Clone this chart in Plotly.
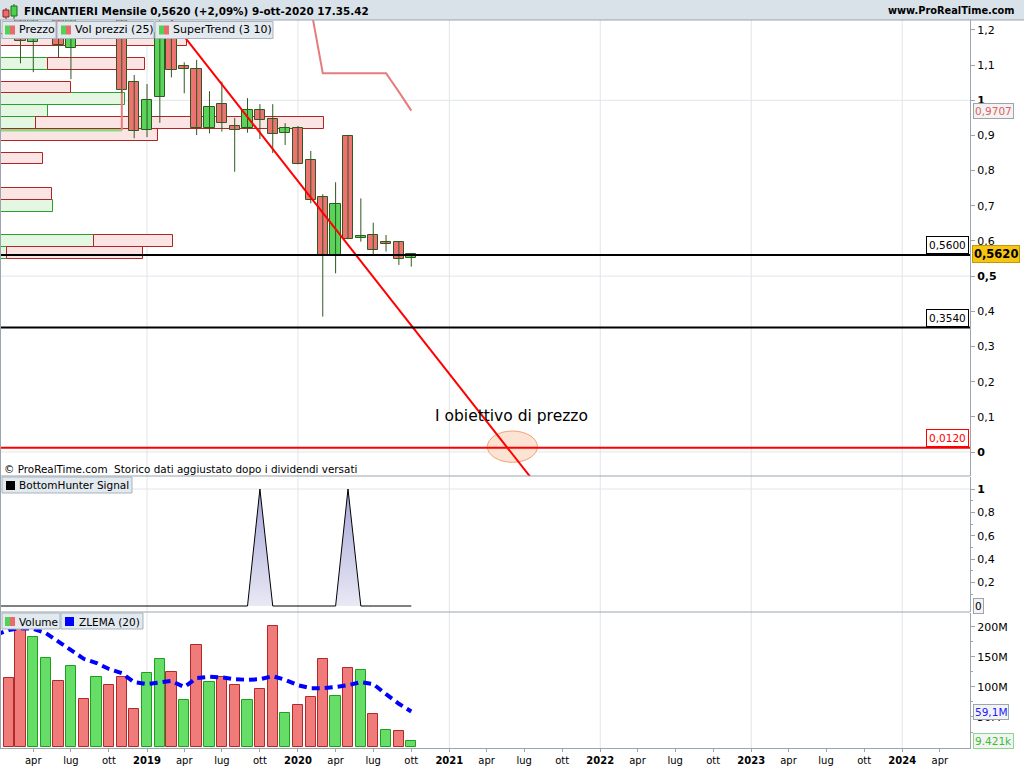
import plotly.graph_objects as go

FONT = "DejaVu Sans"

# ---------------- data ----------------
months = ["2018-02-01", "2018-03-01", "2018-04-01", "2018-05-01", "2018-06-01", "2018-07-01",
          "2018-08-01", "2018-09-01", "2018-10-01", "2018-11-01", "2018-12-01",
          "2019-01-01", "2019-02-01", "2019-03-01", "2019-04-01", "2019-05-01", "2019-06-01",
          "2019-07-01", "2019-08-01", "2019-09-01", "2019-10-01", "2019-11-01", "2019-12-01",
          "2020-01-01", "2020-02-01", "2020-03-01", "2020-04-01", "2020-05-01", "2020-06-01",
          "2020-07-01", "2020-08-01", "2020-09-01", "2020-10-01"]
opens = [1.36, 1.30, 1.165, 1.26, 1.30, 1.148, 1.26, 1.25, 1.32, 1.26, 1.053,
         0.915, 1.010, 1.19, 1.098, 1.088, 0.920, 0.989, 0.927, 0.920, 0.972, 0.947, 0.906,
         0.920, 0.829, 0.724, 0.558, 0.898, 0.609, 0.617, 0.598, 0.598, 0.551]
highs = [1.42, 1.33, 1.30, 1.35, 1.32, 1.30, 1.30, 1.36, 1.35, 1.28, 1.072,
         1.046, 1.24, 1.25, 1.108, 1.115, 1.026, 1.053, 0.950, 1.006, 0.989, 0.989, 0.935,
         0.927, 0.856, 0.733, 0.767, 0.898, 0.721, 0.652, 0.617, 0.598, 0.565]
lows = [1.27, 1.105, 1.08, 1.24, 1.122, 1.06, 1.235, 1.24, 1.235, 1.02, 0.892,
        0.895, 0.936, 1.065, 1.02, 0.901, 0.906, 0.911, 0.797, 0.908, 0.890, 0.850, 0.873,
        0.818, 0.707, 0.385, 0.508, 0.605, 0.598, 0.560, 0.570, 0.532, 0.527]
closes = [1.30, 1.168, 1.26, 1.30, 1.157, 1.26, 1.25, 1.32, 1.26, 1.029, 0.913,
          1.001, 1.19, 1.086, 1.088, 0.920, 0.982, 0.935, 0.915, 0.972, 0.944, 0.903, 0.920,
          0.818, 0.716, 0.558, 0.705, 0.605, 0.614, 0.574, 0.591, 0.548, 0.562]

volume_m = [114.4, 198, 182.8, 147.8, 110, 135, 79.4, 116, 102.8, 116, 63.3,
            122.8, 146, 124.4, 78.3, 170, 107.8, 116, 102.8, 78.3, 96, 201.7, 56,
            69.4, 82.8, 146, 84.4, 131, 127.8, 54.4, 27.8, 26.1, 9.421]
volume_up = [0, 0, 1, 1, 0, 1, 0, 1, 0, 0, 0,
             1, 1, 0, 1, 0, 1, 0, 0, 1, 0, 0, 1,
             0, 0, 0, 1, 0, 1, 0, 1, 0, 1]

ind_months = ["2018-01-01"] + months
zlema_m = [187, 195, 198, 197, 190, 175, 162, 147, 140, 130, 123, 108,
           105, 107, 110, 100, 115, 117, 116, 113, 112, 113, 118, 112,
           103, 98, 98, 100, 103, 108, 105, 88, 72, 59.1]
st_values = [0.915, 0.915, 0.915, 0.915, 0.915, 0.915, 0.915, 0.915, 0.915, 0.915,
             1.46, 1.46,
             1.46, 1.46, 1.46, 1.46, 1.46, 1.46, 1.46, 1.46, 1.46, 1.46, 1.46, 1.46,
             1.40, 1.264, 1.077, 1.077, 1.077, 1.077, 1.077, 1.077, 1.024, 0.9707]
st_dir = [1, 1, 1, 1, 1, 1, 1, 1, 1, 1,
          -1, -1,
          -1, -1, -1, -1, -1, -1, -1, -1, -1, -1, -1, -1,
          -1, -1, -1, -1, -1, -1, -1, -1, -1, -1]
bh_values = [0, 0, 0, 0, 0, 0, 0, 0, 0, 0, 0, 0,
             0, 0, 0, 0, 0, 0, 0, 0, 0, 1, 0, 0,
             0, 0, 0, 0, 1, 0, 0, 0, 0, 0]

# volume-by-price profile (row centre price, up / down volume in profile units)
vp_centers = [0.5658, 0.5994, 0.7002, 0.7338, 0.8346, 0.9018, 0.9354, 0.9690, 1.0026, 1.0362, 1.1034, 1.1706]
vp_up = [7, 94, 53, 0, 0, 0, 36, 48, 125, 0, 48, 0]
vp_down = [136, 79, 0, 52, 43, 158, 288, 0, 0, 71, 97, 187]
vp_bin = 0.0336

levels = [0.560, 0.354, 0.012]
level_labels = ["0,5600", "0,3540", "0,0120"]
level_colors = ["#000000", "#000000", "#ff0000"]

trend_dates = ["2019-03-01", "2021-07-20"]
trend_values = [1.228, -0.077]
target_x = ["2021-04-03", "2021-08-02"]
target_y = [-0.0293, 0.0597]
target_text_pos = ("2021-06-01", 0.102)

price_ticks = [0, 0.1, 0.2, 0.3, 0.4, 0.5, 0.6, 0.7, 0.8, 0.9, 1.0, 1.1, 1.2]
price_tick_text = ["<b>0</b>", "0,1", "0,2", "0,3", "0,4", "<b>0,5</b>", "0,6", "0,7", "0,8", "0,9",
                   "<b>1</b>", "1,1", "1,2"]
bh_ticks = [0.2, 0.4, 0.6, 0.8, 1.0]
bh_tick_text = ["0,2", "0,4", "0,6", "0,8", "<b>1</b>"]
vol_ticks = [50e6, 100e6, 150e6, 200e6]
vol_tick_text = ["50M", "100M", "150M", "200M"]

x_tick_vals = ["2018-04-01", "2018-07-01", "2018-10-01",
               "2019-01-01", "2019-04-01", "2019-07-01", "2019-10-01",
               "2020-01-01", "2020-04-01", "2020-07-01", "2020-10-01",
               "2021-01-01", "2021-04-01", "2021-07-01", "2021-10-01",
               "2022-01-01", "2022-04-01", "2022-07-01", "2022-10-01",
               "2023-01-01", "2023-04-01", "2023-07-01", "2023-10-01",
               "2024-01-01", "2024-04-01"]
x_tick_text = ["apr", "lug", "ott",
               "<b>2019</b>", "apr", "lug", "ott",
               "<b>2020</b>", "apr", "lug", "ott",
               "<b>2021</b>", "apr", "lug", "ott",
               "<b>2022</b>", "apr", "lug", "ott",
               "<b>2023</b>", "apr", "lug", "ott",
               "<b>2024</b>", "apr"]
year_lines = ["2019-01-01", "2020-01-01", "2021-01-01", "2022-01-01", "2023-01-01", "2024-01-01"]

XR = ["2018-01-10 12:00", "2024-06-13"]

# ---------------- style ----------------
GRAY = "#9aa5ae"
GRID = "#e1e5e9"
EDGE = "#2e5a20"
C_UP = "#5ad35a"
C_DN = "#ef7272"
DAY_MS = 86400000


def PX(px):
    return px / 970.0


def PY(py):
    return (748.0 - py) / 728.0


fig = go.Figure()

# volume profile (base subplot, drawn beneath the candles)
fig.add_trace(go.Bar(y=vp_centers, x=[v if v else None for v in vp_up], orientation="h", width=vp_bin,
                     marker=dict(color="#e3f7e3", line=dict(color="#2aa02a", width=1)),
                     xaxis="x", yaxis="y", hoverinfo="skip"))
fig.add_trace(go.Bar(y=vp_centers, x=[v if v else None for v in vp_down], base=vp_up, orientation="h",
                     width=vp_bin, marker=dict(color="#fbe4e4", line=dict(color="#b02424", width=1)),
                     xaxis="x", yaxis="y", hoverinfo="skip"))

# supertrend
gx, gy, rx, ry = [], [], [], []
for i, (d, v, s) in enumerate(zip(ind_months, st_values, st_dir)):
    if s > 0:
        gx.append(d); gy.append(v)
    else:
        if i > 0 and st_dir[i - 1] > 0:
            gx.append(d); gy.append(st_values[i - 1])
            rx.append(d); ry.append(st_values[i - 1])
        rx.append(d); ry.append(v)
fig.add_trace(go.Scatter(x=gx, y=gy, mode="lines", line=dict(color="#86dc86", width=2.5),
                         xaxis="x2", yaxis="y", hoverinfo="skip"))
fig.add_trace(go.Scatter(x=rx, y=ry, mode="lines", line=dict(color="#e67c7c", width=2),
                         xaxis="x2", yaxis="y", hoverinfo="skip"))

# candle wicks
wx, wy = [], []
for d, h, l in zip(months, highs, lows):
    wx += [d, d, None]
    wy += [l, h, None]
fig.add_trace(go.Scatter(x=wx, y=wy, mode="lines", line=dict(color=EDGE, width=1),
                         xaxis="x2", yaxis="y", hoverinfo="skip"))
# candle bodies
body_base = [min(o, c) for o, c in zip(opens, closes)]
body_h = [max(abs(c - o), 0.004) for o, c in zip(opens, closes)]
body_col = [C_UP if c >= o else C_DN for o, c in zip(opens, closes)]
fig.add_trace(go.Bar(x=months, y=body_h, base=body_base, width=25 * DAY_MS,
                     marker=dict(color=body_col, line=dict(color=EDGE, width=1)),
                     xaxis="x2", yaxis="y", hoverinfo="skip"))

# trend line
fig.add_trace(go.Scatter(x=trend_dates, y=trend_values, mode="lines", line=dict(color="#ff0000", width=2),
                         xaxis="x2", yaxis="y", hoverinfo="skip"))

# BottomHunter
fig.add_trace(go.Scatter(x=ind_months, y=bh_values, mode="lines", line=dict(color="#000000", width=1),
                         fill="tozeroy",
                         fillgradient=dict(type="vertical", colorscale=[[0, "#e9e9f5"], [1, "#a6a6d8"]]),
                         xaxis="x3", yaxis="y2", hoverinfo="skip"))

# volume
vol_vals = [v * 1e6 for v in volume_m]
fig.add_trace(go.Bar(x=months, y=vol_vals, width=25 * DAY_MS,
                     marker=dict(color=["#66dd66" if u else "#ef7b7b" for u in volume_up],
                                 line=dict(color=["#1f9f1f" if u else "#b02a2a" for u in volume_up], width=1)),
                     xaxis="x4", yaxis="y3", hoverinfo="skip"))
fig.add_trace(go.Scatter(x=ind_months, y=[z * 1e6 for z in zlema_m], mode="lines",
                         line=dict(color="#0000ff", width=4, dash="8px,5px"),
                         xaxis="x4", yaxis="y3", hoverinfo="skip"))

# ---------------- shapes ----------------
shapes = []
for d in year_lines:
    shapes.append(dict(type="line", xref="x2", yref="paper", x0=d, x1=d, y0=0, y1=1,
                       line=dict(color=GRID, width=1), layer="below"))
for g in [0, 0.5, 1.0]:
    shapes.append(dict(type="line", xref="paper", yref="y", x0=0, x1=1, y0=g, y1=g,
                       line=dict(color=GRID, width=1), layer="below"))
shapes.append(dict(type="line", xref="paper", yref="y2", x0=0, x1=1, y0=1, y1=1,
                   line=dict(color=GRID, width=1), layer="below"))
# target ellipse
shapes.append(dict(type="circle", xref="x2", yref="y", x0=target_x[0], x1=target_x[1],
                   y0=target_y[0], y1=target_y[1], fillcolor="#fde3d3",
                   line=dict(color="#f3a272", width=1), layer="below"))
# levels
for lv, col in zip(levels, level_colors):
    shapes.append(dict(type="line", xref="paper", yref="y", x0=0, x1=1, y0=lv, y1=lv,
                       line=dict(color=col, width=2), layer="above"))
# panel separators & borders
for py in [476, 612]:
    shapes.append(dict(type="line", xref="paper", yref="paper", x0=0, x1=1, y0=PY(py), y1=PY(py),
                       line=dict(color=GRAY, width=1)))
shapes.append(dict(type="line", xref="paper", yref="paper", x0=PX(0.5), x1=PX(0.5), y0=0, y1=1,
                   line=dict(color=GRAY, width=1)))
# header
shapes.append(dict(type="rect", xref="paper", yref="paper", x0=PX(0), x1=PX(1024), y0=PY(20), y1=PY(0),
                   fillcolor="#dae2e9", line=dict(width=0)))
shapes.append(dict(type="line", xref="paper", yref="paper", x0=PX(0), x1=PX(1024), y0=PY(20), y1=PY(20),
                   line=dict(color=GRAY, width=1)))
# header icon
shapes.append(dict(type="line", xref="paper", yref="paper", x0=PX(6), x1=PX(6), y0=PY(19), y1=PY(8),
                   line=dict(color="#8b2020", width=1)))
shapes.append(dict(type="rect", xref="paper", yref="paper", x0=PX(3), x1=PX(9), y0=PY(17), y1=PY(10),
                   fillcolor="#ee6b6b", line=dict(color="#8b2020", width=1)))
shapes.append(dict(type="line", xref="paper", yref="paper", x0=PX(14), x1=PX(14), y0=PY(19), y1=PY(4),
                   line=dict(color="#206820", width=1)))
shapes.append(dict(type="rect", xref="paper", yref="paper", x0=PX(11), x1=PX(17), y0=PY(16), y1=PY(6),
                   fillcolor="#4cd24c", line=dict(color="#206820", width=1)))


def legend_box(x0, x1, py0, py1):
    shapes.append(dict(type="rect", xref="paper", yref="paper", x0=PX(x0), x1=PX(x1), y0=PY(py1), y1=PY(py0),
                       fillcolor="#e2e9ef", line=dict(color="#a7b3bd", width=1)))


def icon_gr(x, py0, py1):
    shapes.append(dict(type="rect", xref="paper", yref="paper", x0=PX(x), x1=PX(x + 5), y0=PY(py1), y1=PY(py0),
                       fillcolor="#55d055", line=dict(width=0)))
    shapes.append(dict(type="rect", xref="paper", yref="paper", x0=PX(x + 5), x1=PX(x + 10), y0=PY(py1),
                       y1=PY(py0), fillcolor="#e86a6a", line=dict(width=0)))


def icon_solid(x, py0, py1, col):
    shapes.append(dict(type="rect", xref="paper", yref="paper", x0=PX(x), x1=PX(x + 9), y0=PY(py1), y1=PY(py0),
                       fillcolor=col, line=dict(width=0)))


legend_box(2, 56, 21.5, 38.5); icon_gr(5, 25.5, 34.5)
legend_box(57, 154, 21.5, 38.5); icon_gr(61, 25.5, 34.5)
legend_box(155, 273, 21.5, 38.5); icon_gr(159, 25.5, 34.5)
legend_box(2, 132, 477, 493); icon_solid(6, 481, 490, "#000000")
legend_box(2, 60, 613, 629); icon_gr(5, 617, 626)
legend_box(61, 143, 613, 629); icon_solid(65, 617, 626, "#0000ff")

# ---------------- annotations ----------------
anns = []


def ann(text, x, y, xref="paper", yref="paper", size=11, color="black", xanchor="left", yanchor="middle", **kw):
    d = dict(text=text, x=x, y=y, xref=xref, yref=yref, showarrow=False, xanchor=xanchor, yanchor=yanchor,
             font=dict(family=FONT, size=size, color=color))
    d.update(kw)
    anns.append(d)


ann("<b>FINCANTIERI Mensile 0,5620 (+2,09%) 9-ott-2020 17.35.42</b>", PX(22), PY(10.5), size=10.4)
ann("<b>www.ProRealTime.com</b>", PX(1017), PY(10.5), size=9.8, xanchor="right")
ann("Prezzo", PX(17), PY(30), size=11)
ann("Vol prezzi (25)", PX(73), PY(30), size=11)
ann("SuperTrend (3 10)", PX(171), PY(30), size=11)
ann("BottomHunter Signal", PX(17), PY(485.5), size=10.5)
ann("Volume", PX(17), PY(621.5), size=10.5)
ann("ZLEMA (20)", PX(77), PY(621.5), size=10.5)
ann("© ProRealTime.com  Storico dati aggiustato dopo i dividendi versati", PX(2), PY(469), size=10.4)
ann("I obiettivo di prezzo", target_text_pos[0], target_text_pos[1], xref="x2", yref="y", size=15.5,
    xanchor="center")

for lv, lab, col in zip(levels, level_labels, level_colors):
    ann(lab, PX(969), lv, yref="y", size=10.5, color=col, xanchor="right", yanchor="bottom", yshift=1,
        bgcolor="white", bordercolor=col, borderwidth=1, borderpad=2)

ann("0,9707", PX(973), st_values[-1], yref="y", size=10.5, color="#e06060", bgcolor="#f3f3f3",
    bordercolor=GRAY, borderwidth=1, borderpad=1)
ann("<b>0,5620</b>", PX(972), closes[-1], yref="y", size=11.5, color="black", bgcolor="#f6c514",
    bordercolor="#c49a00", borderwidth=1, borderpad=1)
ann("0", PX(973), bh_values[-1], yref="y2", size=10.5, bgcolor="#f3f3f3", bordercolor=GRAY, borderwidth=1,
    borderpad=1)
ann("59,1M", PX(973), zlema_m[-1] * 1e6, yref="y3", size=10.5, color="#2020ff", bgcolor="#f3f3f3",
    bordercolor=GRAY, borderwidth=1, borderpad=1)
ann("9.421k", PX(973), volume_m[-1] * 1e6, yref="y3", size=10.5, color="#33c033", bgcolor="#f3f3f3",
    bordercolor="#8ad88a", borderwidth=1, borderpad=1)

yax_common = dict(side="right", ticks="outside", ticklen=4, tickcolor=GRAY, showline=True, linecolor=GRAY,
                  showgrid=False, zeroline=False, tickfont=dict(family=FONT, size=11, color="black"),
                  fixedrange=True)

fig.update_layout(
    width=1024, height=768, autosize=False,
    margin=dict(l=0, r=54, t=20, b=20),
    paper_bgcolor="white", plot_bgcolor="white",
    showlegend=False, barmode="overlay", bargap=0,
    font=dict(family=FONT, size=11, color="black"),
    xaxis=dict(domain=[0, 1], range=[0, 970], visible=False, anchor="y", fixedrange=True),
    xaxis2=dict(domain=[0, 1], range=XR, type="date", overlaying="x", anchor="y", visible=False),
    xaxis3=dict(domain=[0, 1], range=XR, type="date", anchor="y2", visible=False),
    xaxis4=dict(domain=[0, 1], range=XR, type="date", anchor="y3", tickmode="array",
                tickvals=x_tick_vals, ticktext=x_tick_text, ticks="outside", ticklen=3, tickcolor=GRAY,
                showline=True, linecolor=GRAY, showgrid=False, zeroline=False,
                tickfont=dict(family=FONT, size=10, color="black")),
    yaxis=dict(domain=[PY(476), 1], range=[-0.0682, 1.2283], anchor="x", tickmode="array",
               tickvals=price_ticks, ticktext=price_tick_text, **yax_common),
    yaxis2=dict(domain=[PY(612), PY(477)], range=[-0.0513, 1.1026], anchor="x3", tickmode="array",
                tickvals=bh_ticks, ticktext=bh_tick_text,
                minor=dict(tickvals=[0.1, 0.3, 0.5, 0.7, 0.9], ticks="outside", ticklen=2, tickcolor=GRAY),
                **yax_common),
    yaxis3=dict(domain=[0, PY(613)], range=[-1.67e6, 223.3e6], anchor="x4", tickmode="array",
                tickvals=vol_ticks, ticktext=vol_tick_text,
                minor=dict(tickvals=[25e6, 75e6, 125e6, 175e6], ticks="outside", ticklen=2, tickcolor=GRAY),
                **yax_common),
    shapes=shapes,
    annotations=anns,
)

fig.write_html("out.html", config={"displayModeBar": False},
               post_script="document.body.style.margin='0';document.body.style.overflow='hidden';")
